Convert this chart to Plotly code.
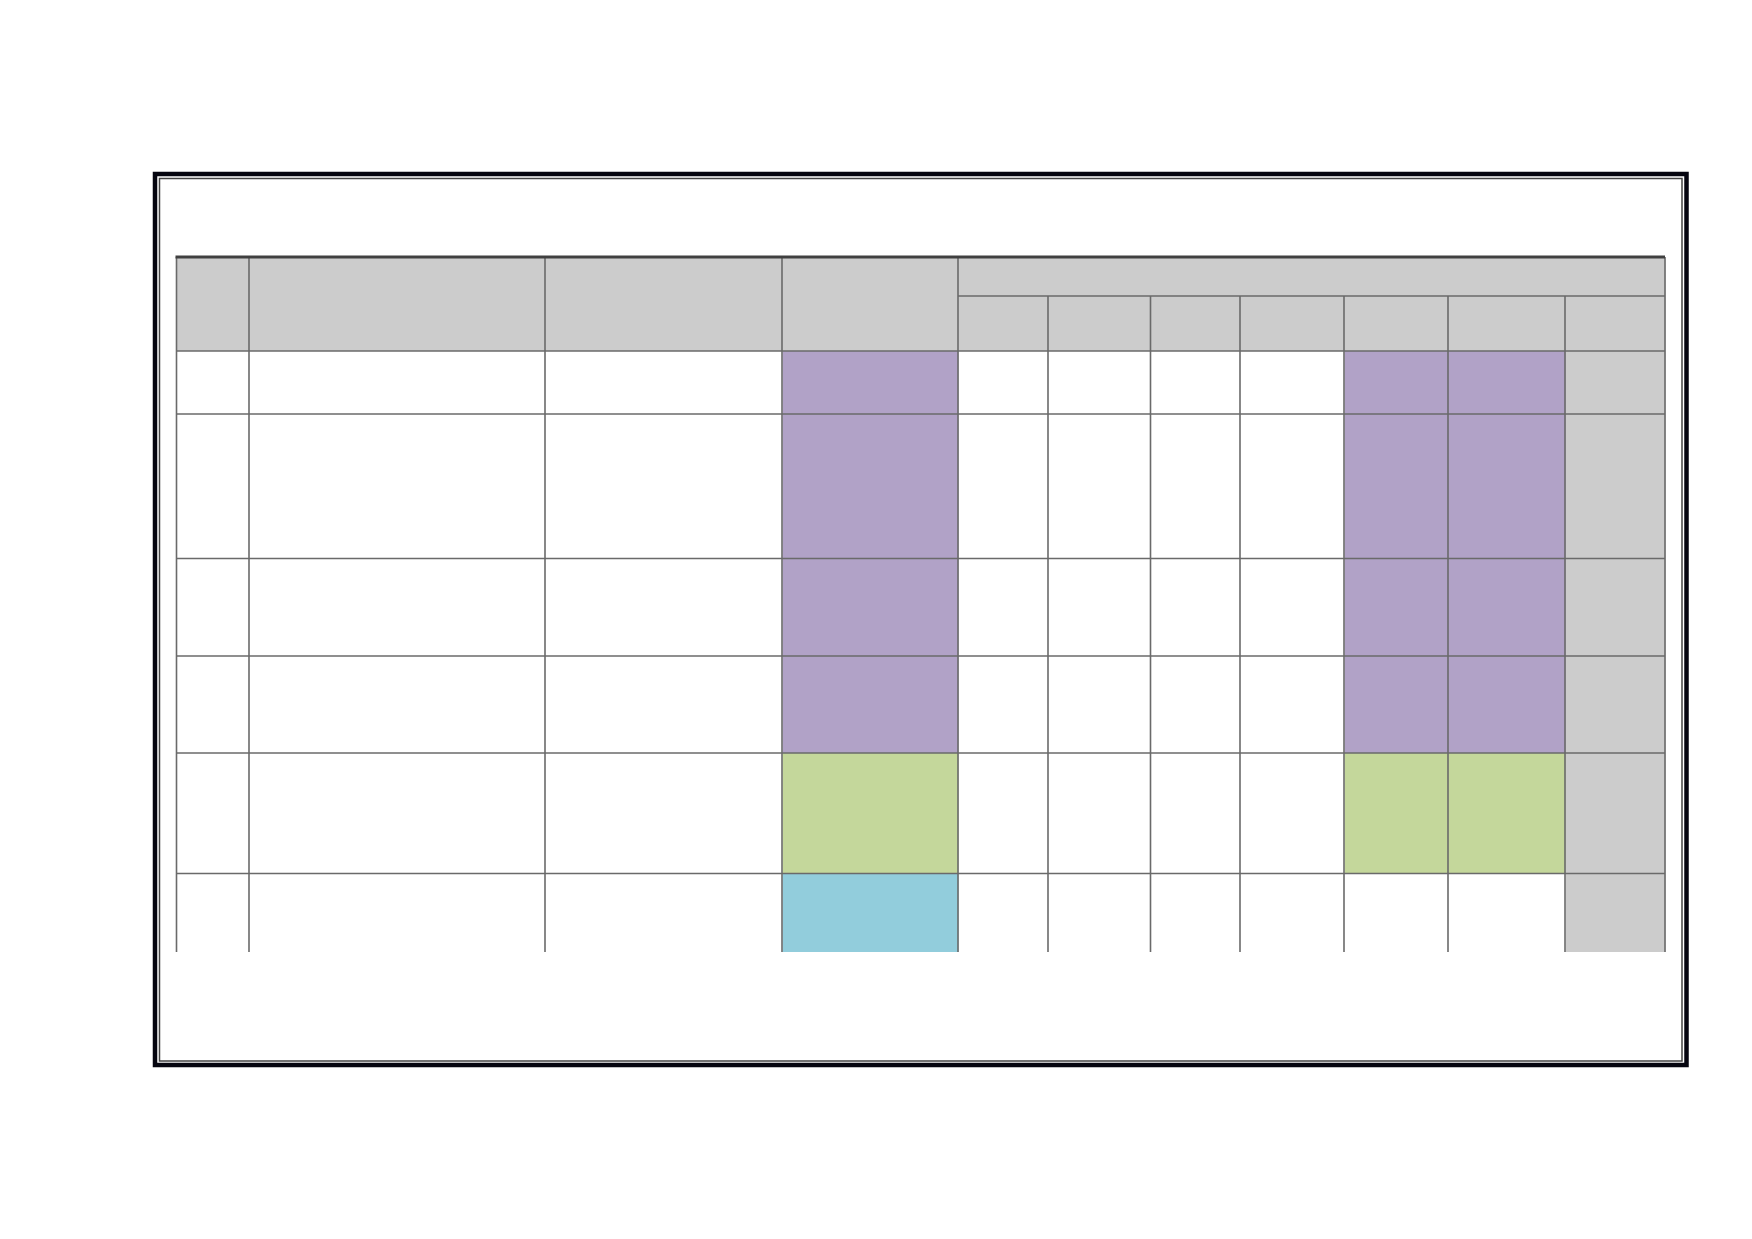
import numpy as np
import plotly.graph_objects as go

# table grid (page pixels): column and row boundaries
col_edges = [176.5, 249, 545, 782, 958, 1048, 1150.5, 1240, 1344, 1448, 1565, 1665]
row_edges = [257, 296, 351, 414, 558.5, 656, 753, 873.5, 952]

# cell fill codes: 0 white, 1 grey, 2 purple, 3 green, 4 blue
cell_codes = [
    [1, 1, 1, 1, 1, 1, 1, 1, 1, 1, 1],
    [1, 1, 1, 1, 1, 1, 1, 1, 1, 1, 1],
    [0, 0, 0, 2, 0, 0, 0, 0, 2, 2, 1],
    [0, 0, 0, 2, 0, 0, 0, 0, 2, 2, 1],
    [0, 0, 0, 2, 0, 0, 0, 0, 2, 2, 1],
    [0, 0, 0, 2, 0, 0, 0, 0, 2, 2, 1],
    [0, 0, 0, 3, 0, 0, 0, 0, 3, 3, 1],
    [0, 0, 0, 4, 0, 0, 0, 0, 0, 0, 1],
]
fill_colors = ["#ffffff", "#cccccc", "#b1a2c7", "#c4d79b", "#92cddc"]

# page frame (outer thick, inner thin)
frame_outer = [155, 174, 1686.5, 1065]
frame_inner = [159.5, 178.5, 1682, 1061]

W, H = 1752, 1239
PAD = 8  # default page margin around the plot div

# stepwise colorscale for the codes
n = len(fill_colors)
cscale = []
for i, c in enumerate(fill_colors):
    cscale.append([i / n, c])
    cscale.append([(i + 1) / n, c])

fig = go.Figure()

fig.add_trace(go.Heatmap(
    x=col_edges, y=row_edges, z=cell_codes,
    zmin=-0.5, zmax=n - 0.5, colorscale=cscale,
    showscale=False, hoverinfo="skip",
))

# grid lines
left, right = col_edges[0], col_edges[-1]
top, bottom = row_edges[0], row_edges[-1]
sub_top = row_edges[1]
merge_from = 4  # header group starts at this column

hx, hy = [], []
# line under the merged group header
hx += [col_edges[merge_from], right, None]
hy += [sub_top, sub_top, None]
for y in row_edges[2:-1]:
    hx += [left, right, None]
    hy += [y, y, None]
for i, x in enumerate(col_edges):
    y0 = sub_top if merge_from < i < len(col_edges) - 1 else top
    hx += [x, x, None]
    hy += [y0, bottom, None]

fig.add_trace(go.Scatter(
    x=hx, y=hy, mode="lines", line=dict(color="#6a6a6a", width=1.6),
    hoverinfo="skip", showlegend=False,
))

# heavy top rule of the table
fig.add_trace(go.Scatter(
    x=[left - 1, right], y=[top, top], mode="lines",
    line=dict(color="#404040", width=3), hoverinfo="skip", showlegend=False,
))

# page frame
fig.add_shape(type="rect", x0=frame_outer[0], y0=frame_outer[1],
              x1=frame_outer[2], y1=frame_outer[3],
              line=dict(color="#05050f", width=4.5))
fig.add_shape(type="rect", x0=frame_inner[0], y0=frame_inner[1],
              x1=frame_inner[2], y1=frame_inner[3],
              line=dict(color="#444444", width=1.5))

fig.update_xaxes(range=[PAD, W - PAD], visible=False, showgrid=False, zeroline=False)
fig.update_yaxes(range=[H - PAD, PAD], visible=False, showgrid=False, zeroline=False)
fig.update_layout(
    width=W - 2 * PAD, height=H - 2 * PAD, margin=dict(l=0, r=0, t=0, b=0),
    plot_bgcolor="white", paper_bgcolor="white", showlegend=False,
)

fig.write_html("out.html")
